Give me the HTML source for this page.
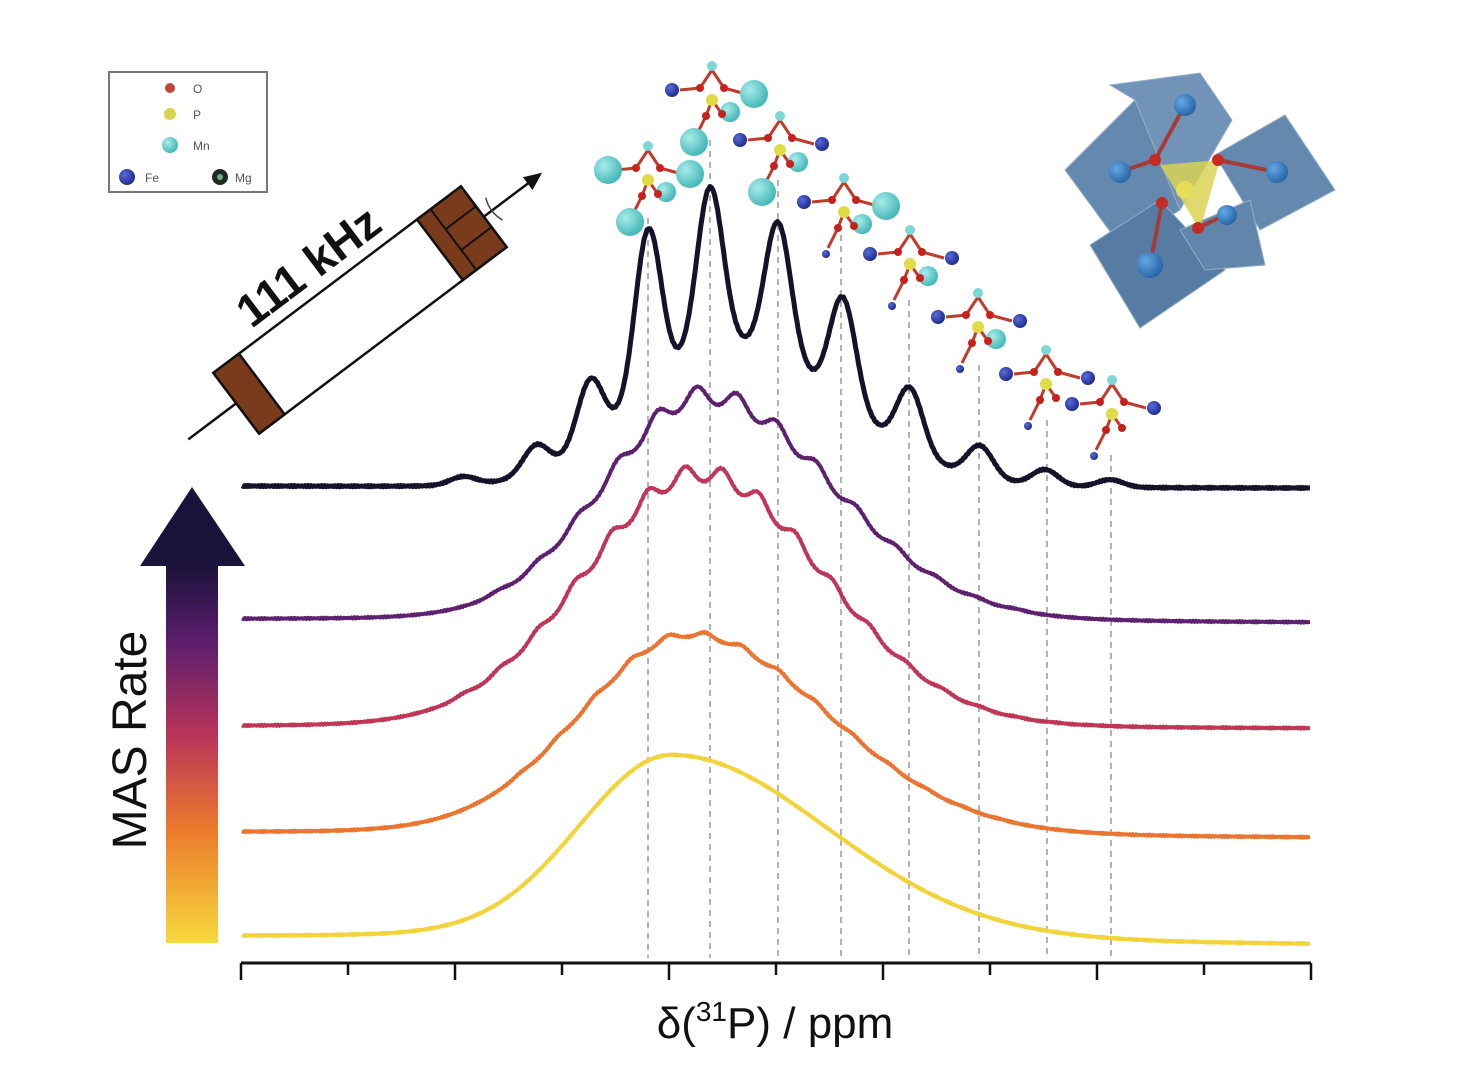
<!DOCTYPE html>
<html><head><meta charset="utf-8"><style>
html,body{margin:0;padding:0;background:#fff;}
svg{display:block;font-family:"Liberation Sans",sans-serif;}
</style></head><body>
<svg id="s" width="1484" height="1078" viewBox="0 0 1484 1078" xmlns="http://www.w3.org/2000/svg">
<defs>
<linearGradient id="ag" x1="0" y1="1" x2="0" y2="0">
<stop offset="0" stop-color="#f6d93e"/><stop offset="0.3" stop-color="#ec7a2c"/><stop offset="0.55" stop-color="#b8345a"/><stop offset="0.8" stop-color="#5c1e6e"/><stop offset="1" stop-color="#1a1238"/>
</linearGradient>
<radialGradient id="gc" cx="0.35" cy="0.35" r="0.7"><stop offset="0" stop-color="#a9ecec"/><stop offset="1" stop-color="#3fb5b5"/></radialGradient>
<radialGradient id="gb" cx="0.35" cy="0.35" r="0.7"><stop offset="0" stop-color="#5a6ad8"/><stop offset="1" stop-color="#1c2a8c"/></radialGradient>
<radialGradient id="gf" cx="0.35" cy="0.35" r="0.7"><stop offset="0" stop-color="#5ea4e6"/><stop offset="1" stop-color="#1a5a9c"/></radialGradient>
</defs>
<rect x="109" y="72" width="158" height="120" fill="#fff" stroke="#777" stroke-width="2"/>
<circle cx="170" cy="88" r="5" fill="#c4453a"/><text x="193" y="93" font-size="12" fill="#555">O</text>
<circle cx="170" cy="114" r="6" fill="#d9d54a"/><text x="193" y="119" font-size="12" fill="#555">P</text>
<circle cx="170" cy="145" r="8" fill="url(#gc)"/><text x="193" y="150" font-size="12" fill="#555">Mn</text>
<circle cx="127" cy="177" r="8" fill="url(#gb)"/><text x="145" y="182" font-size="12" fill="#555">Fe</text>
<circle cx="220" cy="177" r="8" fill="#1d2a25"/><circle cx="220" cy="177" r="3" fill="#7a8"/><text x="235" y="182" font-size="12" fill="#555">Mg</text>
<g transform="translate(360,310) rotate(-37)">
<line x1="-215" y1="0" x2="215" y2="0" stroke="#111" stroke-width="2.5"/>
<polygon points="228,0 210,-8 210,8" fill="#111"/>
<rect x="-155" y="-38" width="310" height="76" fill="#fff" stroke="#111" stroke-width="2.5"/>
<rect x="-155" y="-38" width="32" height="76" fill="#7a3a1c" stroke="#111" stroke-width="2.5"/>
<rect x="100" y="-38" width="55" height="76" fill="#7a3a1c" stroke="#111" stroke-width="2.5"/>
<line x1="117" y1="-38" x2="117" y2="38" stroke="#111" stroke-width="2"/>
<line x1="117" y1="-13" x2="155" y2="-13" stroke="#111" stroke-width="2"/>
<line x1="117" y1="13" x2="155" y2="13" stroke="#111" stroke-width="2"/>
<path d="M168,-14 q-6,14 0,28" fill="none" stroke="#444" stroke-width="1.5"/>
<text x="-15" y="-50" font-size="46" font-weight="bold" fill="#111" text-anchor="middle">111 kHz</text>
</g>
<polygon points="166,565 218,565 218,943 166,943" fill="url(#ag)"/>
<polygon points="140,566 245,566 192,487" fill="#1a1238"/>
<text transform="translate(146,740) rotate(-90)" font-size="48" fill="#111" text-anchor="middle">MAS Rate</text>
<g id="dash"></g>
<g id="curves"></g>
<g id="mols"></g>
<g opacity="0.95">
<polygon points="1065,170 1135,100 1180,210 1120,245" fill="#5d82aa" stroke="#8fa9c4"/>
<polygon points="1110,85 1200,73 1232,120 1180,210 1135,100" fill="#6a8eb4" stroke="#8fa9c4"/>
<polygon points="1215,155 1285,115 1335,190 1260,230" fill="#5d82aa" stroke="#8fa9c4"/>
<polygon points="1090,245 1160,200 1225,270 1140,328" fill="#4f76a0" stroke="#8fa9c4"/>
<polygon points="1180,230 1250,200 1265,265 1205,270" fill="#5a7fa8" stroke="#8fa9c4"/>
<polygon points="1160,165 1220,160 1200,230" fill="#d8d04a" opacity="0.85"/>
<g stroke="#a2302a" stroke-width="4"><line x1="1155" y1="160" x2="1185" y2="105"/><line x1="1218" y1="160" x2="1277" y2="172"/><line x1="1162" y1="203" x2="1150" y2="265"/><line x1="1198" y1="228" x2="1225" y2="215"/><line x1="1155" y1="160" x2="1120" y2="172"/></g>
<circle cx="1185" cy="105" r="11" fill="url(#gf)"/><circle cx="1120" cy="172" r="11" fill="url(#gf)"/><circle cx="1277" cy="172" r="11" fill="url(#gf)"/><circle cx="1150" cy="265" r="13" fill="url(#gf)"/><circle cx="1227" cy="215" r="10" fill="url(#gf)"/>
<circle cx="1155" cy="160" r="6" fill="#c2201a"/><circle cx="1218" cy="160" r="6" fill="#c2201a"/><circle cx="1162" cy="203" r="6" fill="#c2201a"/><circle cx="1198" cy="228" r="6" fill="#c2201a"/>
<circle cx="1185" cy="190" r="9" fill="#e4dc50"/>
</g>
<line x1="241" y1="963" x2="1311" y2="963" stroke="#111" stroke-width="3"/>
<g id="ticks" stroke="#111" stroke-width="2.5"></g>
<text x="775" y="1038" font-size="44" fill="#111" text-anchor="middle">δ(<tspan font-size="28" dy="-17">31</tspan><tspan dy="17">P) / ppm</tspan></text>
</svg>
<script>
var NS="http://www.w3.org/2000/svg";
function el(p,t,a){var e=document.createElementNS(NS,t);for(var k in a)e.setAttribute(k,a[k]);p.appendChild(e);return e;}
var tk=document.getElementById('ticks');
for(var i=0;i<=10;i++){var x=241+i*107;el(tk,'line',{x1:x,y1:963,x2:x,y2:i%2==0?980:975});}
var D=[648,710,778,841,909,979,1047,1111],DY=[218,140,180,235,300,365,420,455];
var dg=document.getElementById('dash');
D.forEach(function(x,i){el(dg,'line',{x1:x,y1:DY[i],x2:x,y2:958,stroke:'#999','stroke-width':1.5,'stroke-dasharray':'6,5'});});
function g(x,c,s){return Math.exp(-(x-c)*(x-c)/(2*s*s));}
function env(x,c,h,sl,sr){return h*g(x,c,x<c?sl:sr);}
function tail(x,c,h,w){return h/(1+((x-c)/w)*((x-c)/w));}
var cv=document.getElementById('curves');
function draw(f,b0,b1,col,wd){var d='';for(var x=242;x<=1310;x+=1.5){var base=b0+(b1-b0)*(x-242)/1068;var y=base-f(x)+Math.sin(x*2.3)*0.6;d+=(d?'L':'M')+x.toFixed(1)+','+y.toFixed(1);}
el(cv,'path',{d:d,fill:'none',stroke:col,'stroke-width':wd,'stroke-linejoin':'round'});}
draw(function(x){return env(x,672,176,92,155)+tail(x,672,10,250);},938,945,'#f2d43a',4);
draw(function(x){var e=env(x,690,192,108,137)+tail(x,690,6,250);var r=0;for(var k=0;k<14;k++)r+=g(x,520+k*37,7);return e+r*e*0.03;},833,838,'#ea7430',4);
draw(function(x){var e=env(x,700,238,115,123)+tail(x,700,6,250);var r=0;for(var k=0;k<18;k++)r+=g(x,463+k*37,8);return e+r*e*0.08;},727,729,'#c03656',4);
draw(function(x){var e=env(x,705,208,100,126)+tail(x,705,6,250);var r=0;for(var k=0;k<14;k++)r+=g(x,497+k*40,9);return e+r*e*0.1;},620,623,'#5e2170',4);
var P=[463,536,590,648,710,778,843,910,980,1045,1110],H=[10,42,108,258,300,265,190,100,42,18,8];
function benv(x){return env(x,730,142,90,110);}
var A=P.map(function(p,i){return Math.max(0,H[i]-benv(p));});
draw(function(x){var s=benv(x);for(var i=0;i<P.length;i++)s+=A[i]*g(x,P[i],13);return s;},486,488,'#15122a',5);
var mg=document.getElementById('mols');
function mol(cx,cy,L,R,LL,LR){
 function atom(x,y,t){if(t=='mn')el(mg,'circle',{cx:x,cy:y,r:14,fill:'url(#gc)'});else if(t=='mns')el(mg,'circle',{cx:x,cy:y,r:10,fill:'url(#gc)'});else if(t=='fe')el(mg,'circle',{cx:x,cy:y,r:7,fill:'url(#gb)'});else if(t=='fes')el(mg,'circle',{cx:x,cy:y,r:4,fill:'url(#gb)'});}
 var bl='#c23a2a';
 el(mg,'path',{d:'M'+(cx-12)+','+(cy-12)+' L'+cx+','+(cy-30)+' L'+(cx+12)+','+(cy-12)+' M'+(cx-12)+','+(cy-12)+' L'+(cx-32)+','+(cy-10)+' M'+(cx+12)+','+(cy-12)+' L'+(cx+34)+','+(cy-6)+' M'+cx+','+cy+' L'+(cx-6)+','+(cy+16)+' L'+(cx-16)+','+(cy+36)+' M'+cx+','+cy+' L'+(cx+10)+','+(cy+14),fill:'none',stroke:bl,'stroke-width':3});
 el(mg,'circle',{cx:cx,cy:cy-34,r:5,fill:'#7fd6d6'});
 atom(cx-40,cy-10,L);atom(cx+42,cy-6,R);atom(cx-18,cy+42,LL);atom(cx+18,cy+12,LR);
 el(mg,'circle',{cx:cx,cy:cy,r:6,fill:'#e0dc48'});
 [[cx-12,cy-12],[cx+12,cy-12],[cx-6,cy+16],[cx+10,cy+14]].forEach(function(p){el(mg,'circle',{cx:p[0],cy:p[1],r:4,fill:'#c8201a'});});
}
mol(648,180,'mn','mn','mn','mns');
mol(712,100,'fe','mn','mn','mns');
mol(780,150,'fe','fe','mn','mns');
mol(844,212,'fe','mn','fes','mns');
mol(910,264,'fe','fe','fes','mns');
mol(978,327,'fe','fe','fes','mns');
mol(1046,384,'fe','fe','fes','');
mol(1112,414,'fe','fe','fes','');
</script>
</body></html>
